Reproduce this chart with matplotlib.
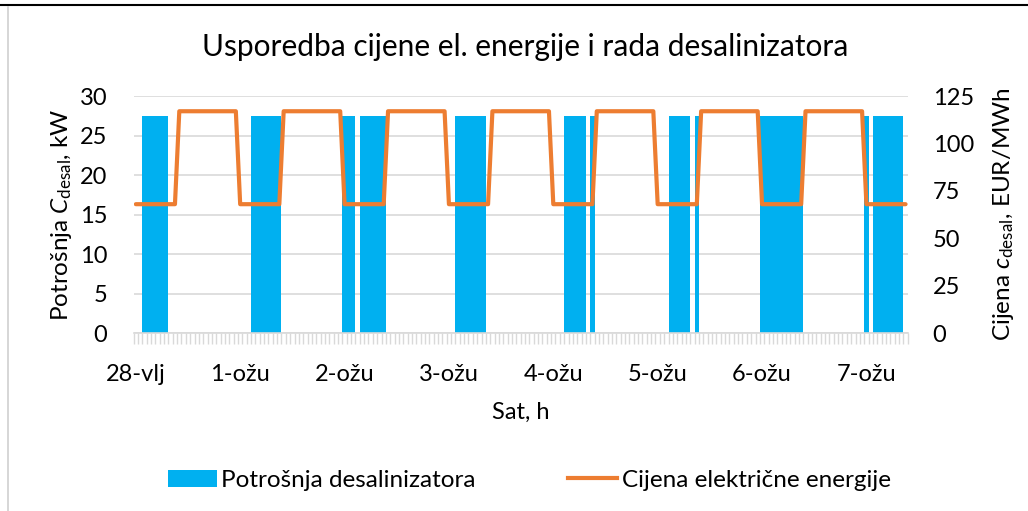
import numpy as np
import matplotlib
matplotlib.use("Agg")
import matplotlib.pyplot as plt
from matplotlib.lines import Line2D
from matplotlib.patches import Patch

plt.rcParams['font.family'] = ['Lato', 'DejaVu Sans']
plt.rcParams['mathtext.fontset'] = 'custom'
plt.rcParams['mathtext.rm'] = 'Lato'
plt.rcParams['mathtext.it'] = 'Lato:italic'

# hourly consumption of the desalinator, kW (one row = one day, 24 h)
potrosnja = [
    0, 0, 27.5, 27.5, 27.5, 27.5, 27.5, 27.5, 0, 0, 0, 0, 0, 0, 0, 0, 0, 0, 0, 0, 0, 0, 0, 0,
    0, 0, 0, 27.5, 27.5, 27.5, 27.5, 27.5, 27.5, 27.5, 0, 0, 0, 0, 0, 0, 0, 0, 0, 0, 0, 0, 0, 0,
    27.5, 27.5, 27.5, 0, 27.5, 27.5, 27.5, 27.5, 27.5, 27.5, 0, 0, 0, 0, 0, 0, 0, 0, 0, 0, 0, 0, 0, 0,
    0, 0, 27.5, 27.5, 27.5, 27.5, 27.5, 27.5, 27.5, 0, 0, 0, 0, 0, 0, 0, 0, 0, 0, 0, 0, 0, 0, 0,
    0, 0, 0, 27.5, 27.5, 27.5, 27.5, 27.5, 0, 27.5, 0, 0, 0, 0, 0, 0, 0, 0, 0, 0, 0, 0, 0, 0,
    0, 0, 0, 27.5, 27.5, 27.5, 27.5, 27.5, 0, 27.5, 0, 0, 0, 0, 0, 0, 0, 0, 0, 0, 0, 0, 0, 0,
    27.5, 27.5, 27.5, 27.5, 27.5, 27.5, 27.5, 27.5, 27.5, 27.5, 0, 0, 0, 0, 0, 0, 0, 0, 0, 0, 0, 0, 0, 0,
    27.5, 0, 27.5, 27.5, 27.5, 27.5, 27.5, 27.5, 27.5, 0,
]

# electricity price, EUR/MWh (low tariff 10 h, high tariff 14 h)
cijena = [
    68, 68, 68, 68, 68, 68, 68, 68, 68, 68, 117, 117, 117, 117, 117, 117, 117, 117, 117, 117, 117, 117, 117, 117,
    68, 68, 68, 68, 68, 68, 68, 68, 68, 68, 117, 117, 117, 117, 117, 117, 117, 117, 117, 117, 117, 117, 117, 117,
    68, 68, 68, 68, 68, 68, 68, 68, 68, 68, 117, 117, 117, 117, 117, 117, 117, 117, 117, 117, 117, 117, 117, 117,
    68, 68, 68, 68, 68, 68, 68, 68, 68, 68, 117, 117, 117, 117, 117, 117, 117, 117, 117, 117, 117, 117, 117, 117,
    68, 68, 68, 68, 68, 68, 68, 68, 68, 68, 117, 117, 117, 117, 117, 117, 117, 117, 117, 117, 117, 117, 117, 117,
    68, 68, 68, 68, 68, 68, 68, 68, 68, 68, 117, 117, 117, 117, 117, 117, 117, 117, 117, 117, 117, 117, 117, 117,
    68, 68, 68, 68, 68, 68, 68, 68, 68, 68, 117, 117, 117, 117, 117, 117, 117, 117, 117, 117, 117, 117, 117, 117,
    68, 68, 68, 68, 68, 68, 68, 68, 68, 68,
]

dani = ["28-vlj", "1-ožu", "2-ožu", "3-ožu", "4-ožu", "5-ožu", "6-ožu", "7-ožu"]

BLUE = "#00B0F0"
ORANGE = "#ED7D31"
GRID = "#D9D9D9"

sati = np.arange(len(potrosnja))

fig = plt.figure(figsize=(10.28, 5.11), dpi=100)
ax = fig.add_axes([0.130, 0.348, 0.753, 0.464])
ax2 = ax.twinx()

ax.bar(sati, potrosnja, width=1.0, color=BLUE, linewidth=0, zorder=2)
ax2.plot(sati, cijena, color=ORANGE, lw=3, solid_capstyle="round", solid_joinstyle="round", zorder=3)

ax.set_xlim(-0.5, len(sati) - 0.5)
ax.set_ylim(0, 30)
ax.set_yticks(np.arange(0, 31, 5))
ax2.set_ylim(0, 125)
ax2.set_yticks(np.arange(0, 126, 25))

ax.set_xticks(np.arange(0, len(sati), 24))
ax.set_xticklabels(dani)
ax.set_xticks(np.arange(-0.5, len(sati)), minor=True)
ax.tick_params(axis="x", which="major", length=0, pad=22, labelsize=17)
ax.tick_params(axis="x", which="minor", length=8, width=1, color=GRID, direction="out")
ax.tick_params(axis="y", length=0, pad=19, labelsize=17)
ax2.tick_params(axis="y", length=0, pad=18, labelsize=17)

ax.grid(axis="y", color=GRID, lw=1.2, zorder=0)
ax.set_axisbelow(True)
for a in (ax, ax2):
    for s in ("top", "left", "right"):
        a.spines[s].set_visible(False)
ax.spines["bottom"].set_color(GRID)
ax.spines["bottom"].set_linewidth(1.2)
ax2.spines["bottom"].set_visible(False)

ax.set_ylabel(r"Potrošnja $\mathit{C}_{\mathrm{desal}}$, kW", fontsize=17.5, labelpad=4)
ax2.set_ylabel(r"Cijena $\mathit{c}_{\mathrm{desal}}$, EUR/MWh", fontsize=17.5, labelpad=12)
ax.set_xlabel("Sat, h", fontsize=17, labelpad=12)

fig.text(0.511, 0.908, "Usporedba cijene el. energije i rada desalinizatora",
         ha="center", va="center", fontsize=21.5)

handles = [Patch(facecolor=BLUE, edgecolor="none"),
           Line2D([0], [0], color=ORANGE, lw=3)]
fig.legend(handles, ["Potrošnja desalinizatora", "Cijena električne energije"],
           loc="center", bbox_to_anchor=(0.515, 0.06), ncol=2, frameon=False,
           fontsize=17.5, handlelength=2.0, handletextpad=0.2, columnspacing=3.8)

# page line and chart border
fig.add_artist(Line2D([0, 1], [0.990, 0.990], color="black", lw=1.5, transform=fig.transFigure))
fig.add_artist(Line2D([0.008, 0.008], [0.0, 0.986], color="#D0D0D0", lw=1.2, transform=fig.transFigure))

fig.savefig("out.png", dpi=100)
